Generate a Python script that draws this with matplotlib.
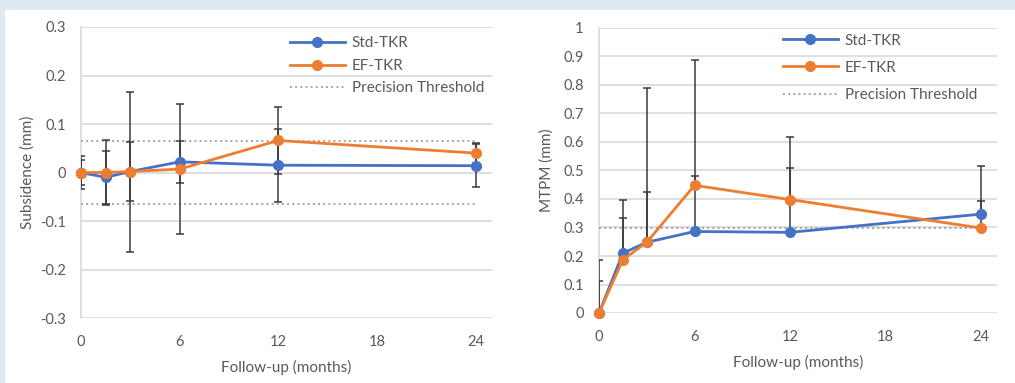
import numpy as np
import matplotlib.pyplot as plt
from matplotlib.patches import Rectangle
from matplotlib.ticker import FuncFormatter

# Follow-up time points (months)
months = [0, 1.5, 3, 6, 12, 24]

# Subsidence (mm), mean and symmetric error
sub_std = [0.0, -0.01, 0.002, 0.022, 0.015, 0.014]
sub_std_err = [0.035, 0.054, 0.165, 0.043, 0.075, 0.044]
sub_ef = [0.0, 0.0, 0.002, 0.007, 0.066, 0.04]
sub_ef_err = [0.025, 0.066, 0.06, 0.134, 0.07, 0.02]
sub_threshold = 0.065

# MTPM (mm), mean and upper error
mtpm_std = [0.0, 0.21, 0.248, 0.286, 0.283, 0.347]
mtpm_std_err = [0.187, 0.123, 0.54, 0.196, 0.226, 0.17]
mtpm_ef = [0.0, 0.187, 0.248, 0.448, 0.398, 0.298]
mtpm_ef_err = [0.113, 0.208, 0.175, 0.44, 0.218, 0.096]
mtpm_threshold = 0.3

xticks = [0, 6, 12, 18, 24]

BLUE = '#4472C4'
ORANGE = '#ED7D31'
GRID = '#d9d9d9'
TEXT = '#595959'

plt.rcParams['font.family'] = ['Lato', 'DejaVu Sans']

fig = plt.figure(figsize=(10.15, 3.83), dpi=100, facecolor='#dfe9f3')
fig.add_artist(Rectangle((5 / 1015, 0), 1, 1 - 10 / 383, transform=fig.transFigure,
                         facecolor='white', edgecolor='none', zorder=-10))

ax1 = fig.add_axes([81 / 1015, 1 - 318 / 383, 411 / 1015, 291 / 383])
ax2 = fig.add_axes([599 / 1015, 1 - 313 / 383, 398 / 1015, 285 / 383])


def style(ax, ylim, yticks, ylabel, ylabelpad):
    ax.set_facecolor('none')
    ax.set_xlim(0, 25)
    ax.set_ylim(*ylim)
    ax.set_xticks(xticks)
    ax.set_yticks(yticks)
    ax.yaxis.set_major_formatter(FuncFormatter(lambda v, p: '%g' % round(v, 2)))
    for side in ['top', 'right', 'bottom']:
        ax.spines[side].set_visible(False)
    ax.spines['left'].set_color(GRID)
    ax.spines['left'].set_linewidth(1.2)
    ax.grid(axis='y', color=GRID, linewidth=1.2)
    ax.set_axisbelow(True)
    ax.tick_params(length=0, labelsize=10.5, labelcolor=TEXT, pad=11)
    ax.tick_params(axis='x', pad=12)
    ax.set_xlabel('Follow-up (months)', fontsize=11, color=TEXT, labelpad=8)
    ax.set_ylabel(ylabel, fontsize=11, color=TEXT, labelpad=ylabelpad)


style(ax1, (-0.3, 0.3), np.arange(-0.3, 0.31, 0.1), 'Subsidence (mm)', 4)
style(ax2, (0, 1.0), np.arange(0, 1.01, 0.1), 'MTPM (mm)', 7)

err_kw = dict(fmt='none', ecolor='#3a3a3a', elinewidth=1.1, capsize=3, capthick=1.1, zorder=4)
line_kw = dict(marker='o', markersize=7, linewidth=2, clip_on=False)

# Subsidence panel
ax1.errorbar(months, sub_std, yerr=sub_std_err, **err_kw)
ax1.errorbar(months, sub_ef, yerr=sub_ef_err, **err_kw)
ax1.plot(months, sub_std, color=BLUE, label='Std-TKR', zorder=5, **line_kw)
ax1.plot(months, sub_ef, color=ORANGE, label='EF-TKR', zorder=6, **line_kw)
ax1.plot([0, 24], [sub_threshold, sub_threshold], color='#a5a5a5', linestyle=':', linewidth=1.4,
         label='Precision Threshold', zorder=3)
ax1.plot([0, 24], [-sub_threshold, -sub_threshold], color='#a5a5a5', linestyle=':', linewidth=1.4, zorder=3)

# MTPM panel, upper error only
zeros = [0] * len(months)
ax2.errorbar(months, mtpm_std, yerr=[zeros, mtpm_std_err], **err_kw)
ax2.errorbar(months, mtpm_ef, yerr=[zeros, mtpm_ef_err], **err_kw)
ax2.plot(months, mtpm_std, color=BLUE, label='Std-TKR', zorder=5, **line_kw)
ax2.plot(months, mtpm_ef, color=ORANGE, label='EF-TKR', zorder=6, **line_kw)
ax2.plot([0, 24], [mtpm_threshold, mtpm_threshold], color='#a5a5a5', linestyle=':', linewidth=1.4,
         label='Precision Threshold', zorder=3)

for ax, anchor, spacing in [(ax1, (0.508, 0.968), 0.56), (ax2, (0.462, 0.98), 0.86)]:
    leg = ax.legend(loc='upper left', bbox_to_anchor=anchor, frameon=False, fontsize=11,
                    handlelength=3.6, handletextpad=0.45, labelspacing=spacing,
                    borderaxespad=0, borderpad=0)
    for t in leg.get_texts():
        t.set_color(TEXT)

fig.savefig('out.png', dpi=100, facecolor=fig.get_facecolor())
